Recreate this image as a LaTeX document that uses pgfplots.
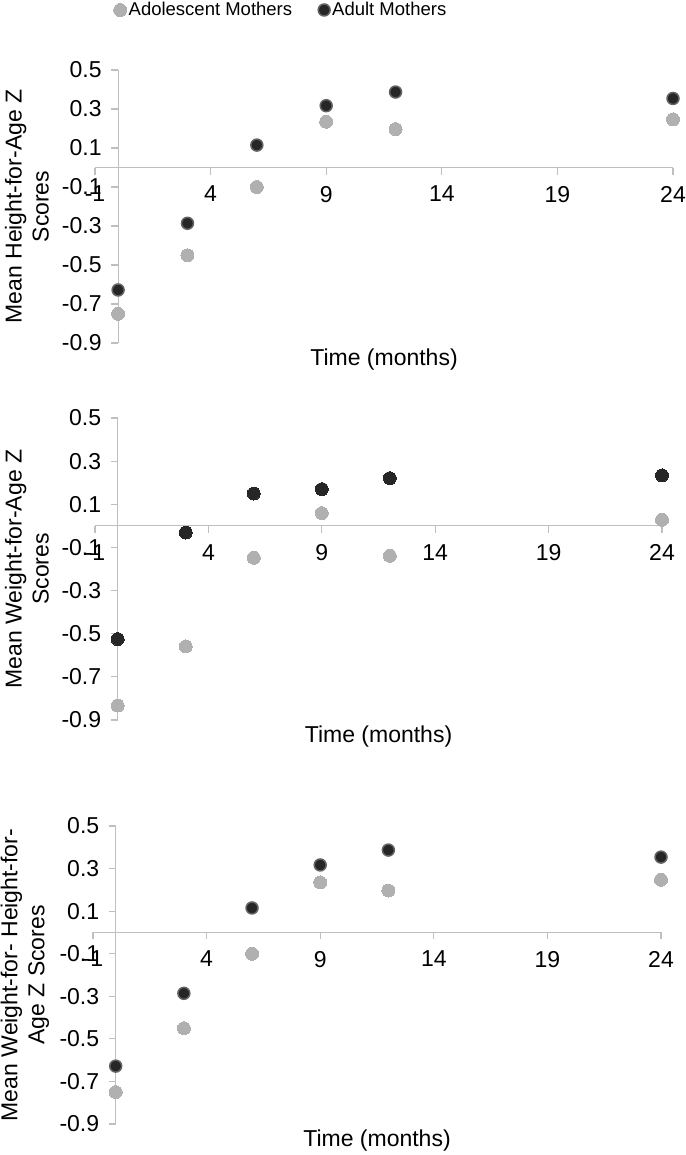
\documentclass[border=0pt]{standalone}
\usepackage{pgfplots}
\pgfplotsset{compat=1.18}
\usepackage{fontspec}
\setmainfont{Liberation Sans}
\definecolor{adol}{HTML}{B0B0B0}
\definecolor{adult}{HTML}{262626}
\definecolor{ring}{HTML}{646464}
\definecolor{axgray}{HTML}{BFBFBF}

\pgfplotstableread{
x y
0 -0.750
3 -0.450
6 -0.100
9 0.235
12 0.197
24 0.247
}\adolA
\pgfplotstableread{
x y
0 -0.628
3 -0.286
6 0.115
9 0.317
12 0.387
24 0.354
}\adultA
\pgfplotstableread{
x y
0 -0.833
3 -0.559
6 -0.148
9 0.059
12 -0.139
24 0.028
}\adolB
\pgfplotstableread{
x y
0 -0.525
3 -0.031
6 0.150
9 0.170
12 0.221
24 0.234
}\adultB

\pgfplotsset{
 panel/.style={
  scale only axis, axis lines=middle,
  axis line style={draw=axgray, line width=1.2pt, -},
  xmin=-1, xmax=24, ymin=-0.9, ymax=0.5,
  xtick={-1,4,9,14,19,24}, xticklabels={-1,4,9,14,19,24},
  ytick={-0.9,-0.7,-0.5,-0.3,-0.1,0.1,0.3,0.5},
  yticklabels={-0.9,-0.7,-0.5,-0.3,-0.1,0.1,0.3,0.5},
  tick align=outside, major tick length=7pt,
  tick style={draw=axgray, line width=1.2pt},
  ticklabel style={font=\fontsize{23}{27}\selectfont, text=black},
  xticklabel style={yshift=-8pt},
  yticklabel style={xshift=-6pt},
  clip=false,
  xlabel={Time (months)},
  every axis x label/.style={at={(axis description cs:0.5,0)}, anchor=north, yshift=-2pt, font=\fontsize{23}{27}\selectfont},
  every axis y label/.style={at={([xshift=-68pt]axis description cs:0,0.5)}, rotate=90, anchor=center, align=center, font=\fontsize{23}{27}\selectfont},
 },
 adolmark/.style={only marks, mark=*, mark size=6.5pt, mark options={fill=adol, draw=adol, line width=0pt}},
 adultring/.style={only marks, mark=*, mark size=6pt, mark options={fill=adult, draw=ring, line width=1.5pt}},
 adultsolid/.style={only marks, mark=*, mark size=6.5pt, mark options={fill=adult, draw=adult, line width=0pt}},
}

\begin{document}
\begin{tikzpicture}
\useasboundingbox (0,0) rectangle (685pt,-1155pt);
% Panel 1
\begin{axis}[panel, anchor=north west, at={(95pt,-70pt)}, width=578pt, height=273pt,
  ylabel={Mean Height-for-Age Z\\Scores},
  legend style={at={([xshift=186pt,yshift=60pt]axis description cs:0,1)}, anchor=center, draw=none, fill=none,
    legend columns=2, font=\fontsize{18.5}{20}\selectfont,
    /tikz/every even column/.append style={column sep=24pt}},
  legend image code/.code={\draw[mark repeat=2,mark phase=2,#1] plot coordinates {(0cm,0cm)(0.12cm,0cm)(0.24cm,0cm)};}
]
\addplot[adolmark] table {\adolA};
\addlegendentry{Adolescent Mothers}
\addplot[adultring] table {\adultA};
\addlegendentry{Adult Mothers}
\end{axis}
% Panel 2
\begin{axis}[panel, anchor=north west, at={(95pt,-418pt)}, width=567pt, height=302pt,
  ylabel={Mean Weight-for-Age Z\\Scores}]
\addplot[adolmark] table {\adolB};
\addplot[adultsolid] table {\adultB};
\end{axis}
% Panel 3
\begin{axis}[panel, anchor=north west, at={(93pt,-826pt)}, width=568pt, height=298pt,
  ylabel={Mean Weight-for- Height-for-\\Age Z Scores}]
\addplot[adolmark] table {\adolA};
\addplot[adultring] table {\adultA};
\end{axis}
\end{tikzpicture}
\end{document}
